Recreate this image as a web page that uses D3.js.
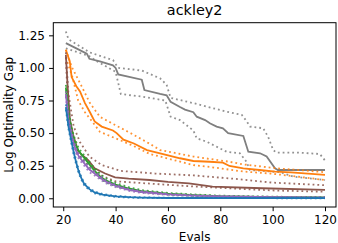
<!DOCTYPE html>
<html>
<head>
<meta charset="utf-8">
<script src="https://cdn.jsdelivr.net/npm/d3@7"></script>
<style>
  body { margin: 0; background: #fff; }
  text { font-family: "DejaVu Sans", sans-serif; }
</style>
</head>
<body>
<div id="chart"></div>
<script>
// [evals, log optimality gap]
const grayMean = [[21,1.19],[25,1.15],[29,1.11],[30,1.07],[34,1.05],[39,1.02],[40,1.0],[41,0.95],[50,0.91],[51,0.83],[57,0.80],[59.5,0.79],[61,0.74],[64.6,0.70],[66.5,0.68],[69.7,0.66],[71,0.626],[74.2,0.60],[76,0.575],[78.6,0.55],[81,0.537],[83,0.50],[88.8,0.478],[90.7,0.357],[95.2,0.345],[97.7,0.32],[100.9,0.23],[102,0.217],[120,0.217]];
const grayUpper = [[21,1.28],[22,1.22],[30,1.12],[39,1.06],[41,1.00],[50,0.98],[57,0.92],[59.5,0.87],[61,0.77],[69.7,0.73],[82.4,0.664],[88.2,0.64],[90.1,0.59],[91.4,0.55],[96.4,0.537],[98.3,0.47],[100.2,0.37],[101.5,0.35],[110,0.35],[118,0.34],[120,0.29]];
const grayLower = [[21,1.15],[30,1.09],[33,1.05],[40,0.97],[42,0.80],[50,0.78],[59,0.75],[61,0.626],[64.6,0.60],[69.7,0.52],[71,0.46],[74.8,0.434],[82.4,0.357],[87.5,0.345],[90,0.28],[91.3,0.217],[103,0.20],[108,0.165],[120,0.14]];

const orangeMean = [[21,1.14],[22.5,1.05],[23.2,0.93],[25,0.86],[26.4,0.82],[28.3,0.73],[30.2,0.66],[32,0.59],[34.7,0.55],[39,0.52],[40.4,0.50],[43,0.45],[47,0.42],[52,0.37],[57,0.345],[64.6,0.307],[69.7,0.286],[76,0.28],[81,0.273],[83.5,0.248],[88.8,0.23],[95,0.217],[101,0.205],[107,0.198],[120,0.18]];
const orangeUpper = [[21,1.14],[23.2,1.01],[27,0.86],[30.2,0.73],[34,0.625],[40,0.56],[45.7,0.50],[52,0.43],[57,0.37],[69.7,0.32],[83.5,0.28],[88.8,0.26],[101.5,0.23],[108,0.22],[120,0.20]];
const orangeLower = [[21,1.08],[23.5,0.93],[25.7,0.75],[28.3,0.66],[31,0.59],[34,0.51],[40,0.46],[47,0.40],[53,0.34],[57,0.32],[69.7,0.255],[76,0.24],[88.8,0.205],[99,0.19],[110,0.165],[120,0.14]];

const brownMean = [[21,1.10],[21.7,0.85],[22.6,0.60],[23.8,0.485],[25.7,0.36],[29.6,0.29],[32,0.23],[36,0.19],[39.8,0.16],[45,0.15],[53,0.14],[60,0.125],[68,0.115],[77,0.09],[96,0.077],[120,0.064]];
const brownUpper = [[21,1.12],[22,0.80],[24,0.55],[26.4,0.43],[30,0.32],[34.7,0.255],[42,0.21],[55,0.19],[70,0.175],[85,0.15],[100,0.12],[120,0.10]];
const brownLower = [[21,1.08],[22,0.60],[24,0.42],[26,0.33],[30,0.25],[35,0.17],[40,0.13],[55,0.11],[70,0.09],[85,0.075],[100,0.06],[120,0.05]];

const greenMean = [[21,0.85],[22,0.65],[23,0.53],[24,0.45],[25,0.40],[26,0.36],[28,0.31],[30,0.26],[32,0.21],[34,0.17],[36,0.14],[40,0.105],[45,0.075],[50,0.055],[60,0.035],[70,0.024],[80,0.016],[100,0.009],[120,0.006]];
const greenUpper = [[21,0.87],[22,0.68],[23,0.56],[24,0.48],[25,0.43],[26,0.38],[28,0.33],[30,0.28],[32,0.23],[34,0.19],[36,0.155],[40,0.118],[45,0.085],[50,0.063],[60,0.041],[70,0.029],[80,0.02],[100,0.012],[120,0.009]];
const greenLower = [[21,0.82],[22,0.62],[23,0.50],[24,0.42],[25,0.37],[26,0.33],[28,0.29],[30,0.24],[32,0.19],[34,0.155],[36,0.125],[40,0.092],[45,0.065],[50,0.047],[60,0.029],[70,0.019],[80,0.012],[100,0.006],[120,0.003]];

const purpleMean = [[21,0.80],[22,0.60],[23,0.50],[24,0.42],[25,0.36],[26,0.32],[28,0.27],[30,0.22],[32,0.19],[34,0.16],[36,0.13],[40,0.095],[45,0.065],[50,0.048],[60,0.03],[70,0.02],[80,0.014],[100,0.008],[120,0.005]];
const purpleUpper = [[21,0.82],[22,0.63],[23,0.53],[24,0.44],[25,0.38],[26,0.34],[28,0.29],[30,0.24],[32,0.205],[34,0.175],[36,0.142],[40,0.105],[45,0.073],[50,0.055],[60,0.035],[70,0.024],[80,0.017],[100,0.011],[120,0.008]];
const purpleLower = [[21,0.78],[22,0.57],[23,0.47],[24,0.40],[25,0.34],[26,0.30],[28,0.25],[30,0.20],[32,0.175],[34,0.145],[36,0.118],[40,0.085],[45,0.057],[50,0.041],[60,0.025],[70,0.016],[80,0.011],[100,0.005],[120,0.003]];

const blueMean = [[21,0.70],[22,0.55],[23,0.45],[24,0.35],[25,0.27],[26,0.20],[27,0.15],[28,0.11],[30,0.07],[32,0.045],[35,0.028],[40,0.015],[45,0.008],[50,0.005],[60,0.002],[120,0.001]];
const blueUpper = [[21,0.72],[22,0.57],[23,0.47],[24,0.37],[25,0.285],[26,0.215],[27,0.16],[28,0.12],[30,0.078],[32,0.052],[35,0.033],[40,0.019],[45,0.011],[50,0.007],[60,0.004],[120,0.003]];
const blueLower = [[21,0.68],[22,0.53],[23,0.43],[24,0.33],[25,0.255],[26,0.185],[27,0.14],[28,0.10],[30,0.062],[32,0.038],[35,0.023],[40,0.011],[45,0.005],[50,0.003],[60,0.001],[120,0.0]];

const xTicks = [20, 40, 60, 80, 100, 120];
const yTicks = [0, 0.25, 0.5, 0.75, 1.0, 1.25];

const series = [
  { color: "#7f7f7f", mean: grayMean, upper: grayUpper, lower: grayLower },
  { color: "#ff7f0e", mean: orangeMean, upper: orangeUpper, lower: orangeLower },
  { color: "#8c564b", mean: brownMean, upper: brownUpper, lower: brownLower },
  { color: "#2ca02c", mean: greenMean, upper: greenUpper, lower: greenLower },
  { color: "#9467bd", mean: purpleMean, upper: purpleUpper, lower: purpleLower },
  { color: "#1f77b4", mean: blueMean, upper: blueUpper, lower: blueLower }
];

const W = 338, H = 243;
const mLeft = 53.3, mRight = 336, mTop = 22.7, mBottom = 207;

const svg = d3.select("#chart").append("svg")
  .attr("width", W).attr("height", H);

const x = d3.scaleLinear().domain([16.2, 124.2]).range([mLeft, mRight]);
const y = d3.scaleLinear().domain([-0.067, 1.347]).range([mBottom, mTop]);

const line = d3.line().x(d => x(d[0])).y(d => y(d[1]));

svg.append("clipPath").attr("id", "clip")
  .append("rect").attr("x", mLeft).attr("y", mTop)
  .attr("width", mRight - mLeft).attr("height", mBottom - mTop);

const plot = svg.append("g").attr("clip-path", "url(#clip)");

series.forEach(s => {
  [s.upper, s.lower].forEach(band => {
    plot.append("path")
      .attr("d", line(band))
      .attr("fill", "none")
      .attr("stroke", s.color)
      .attr("stroke-opacity", 0.85)
      .attr("stroke-width", 1.8)
      .attr("stroke-dasharray", "1.8,3");
  });
  plot.append("path")
    .attr("d", line(s.mean))
    .attr("fill", "none")
    .attr("stroke", s.color)
    .attr("stroke-width", 1.8);
});

const xAxis = svg.append("g")
  .attr("transform", `translate(0,${mBottom})`)
  .call(d3.axisBottom(x).tickValues(xTicks).tickSize(4.2).tickPadding(4.2));
const yAxis = svg.append("g")
  .attr("transform", `translate(${mLeft},0)`)
  .call(d3.axisLeft(y).tickValues(yTicks).tickFormat(d3.format(".2f")).tickSize(4.2).tickPadding(4.2));

[xAxis, yAxis].forEach(a => {
  a.select(".domain").remove();
  a.selectAll("text").attr("font-family", "DejaVu Sans").attr("font-size", 12).attr("fill", "#000");
  a.selectAll("line").attr("stroke", "#000").attr("stroke-width", 1);
});

svg.append("rect")
  .attr("x", mLeft).attr("y", mTop)
  .attr("width", mRight - mLeft).attr("height", mBottom - mTop)
  .attr("fill", "none").attr("stroke", "#000").attr("stroke-width", 1);

svg.append("text")
  .attr("x", (mLeft + mRight) / 2).attr("y", 15)
  .attr("text-anchor", "middle")
  .attr("font-size", 14.4)
  .text("ackley2");

svg.append("text")
  .attr("x", (mLeft + mRight) / 2).attr("y", 240.5)
  .attr("text-anchor", "middle")
  .attr("font-size", 12)
  .text("Evals");

svg.append("text")
  .attr("transform", `translate(12.5,${(mTop + mBottom) / 2}) rotate(-90)`)
  .attr("text-anchor", "middle")
  .attr("font-size", 12)
  .text("Log Optimality Gap");
</script>
</body>
</html>
